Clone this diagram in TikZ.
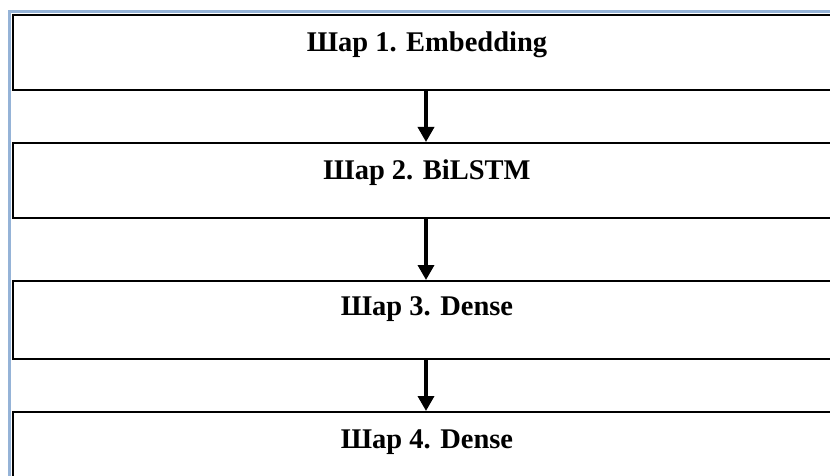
\documentclass[tikz,border=0pt]{standalone}
\usepackage{fontspec}
\setmainfont{Liberation Serif}
\usetikzlibrary{arrows.meta}
\definecolor{framec}{HTML}{95B3D7}
\tikzset{
  layerbox/.style={draw=black, line width=2pt, fill=white, inner sep=0pt},
  layertext/.style={font=\bfseries\fontsize{28.5}{32}\selectfont, anchor=base, inner sep=0pt},
  flow/.style={line width=3.5pt, -{Triangle[length=15pt,width=16pt]}, shorten >=0pt},
  framel/.style={draw=framec, line width=3pt}
}
\begin{document}
\begin{tikzpicture}[x=1pt,y=-1pt]
\useasboundingbox (0,0) rectangle (830,476);
\clip (0,0) rectangle (830,476);
\fill[white] (0,0) rectangle (830,476);
\coordinate (ftl) at (9.5,12);
\coordinate (ftr) at (840,12);
\coordinate (fbl) at (9.5,480);
\draw[framel] (ftr) -- (ftl) -- (fbl);
\node[layerbox, minimum width=840pt, minimum height=75pt, anchor=north west] (b1) at (12,14) {};
\node[layerbox, minimum width=840pt, minimum height=75pt, anchor=north west] (b2) at (12,142) {};
\node[layerbox, minimum width=840pt, minimum height=78pt, anchor=north west] (b3) at (12,280) {};
\node[layerbox, minimum width=840pt, minimum height=80pt, anchor=north west] (b4) at (12,411) {};
\node[layertext] (t1) at (427,52) {Шар 1. Embedding};
\node[layertext] (t2) at (427,179) {Шар 2. BiLSTM};
\node[layertext] (t3) at (427,315) {Шар 3. Dense};
\node[layertext] (t4) at (427,448) {Шар 4. Dense};
\coordinate (ax) at (426,0);
\draw[flow] (b1.south -| ax) -- (b2.north -| ax);
\draw[flow] (b2.south -| ax) -- (b3.north -| ax);
\draw[flow] (b3.south -| ax) -- (b4.north -| ax);
\end{tikzpicture}
\end{document}
